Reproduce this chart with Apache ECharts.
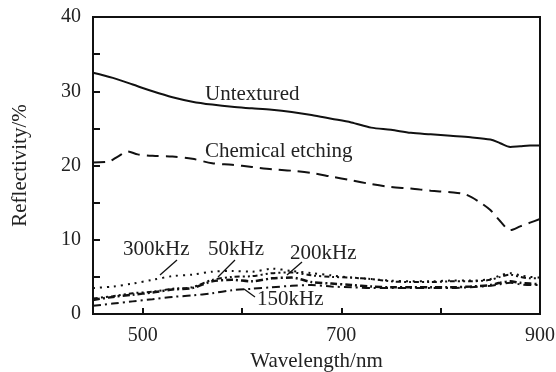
<!DOCTYPE html>
<html>
<head>
<meta charset="utf-8">
<script src="https://cdn.jsdelivr.net/npm/echarts@6/dist/echarts.min.js"></script>
<style>html,body{margin:0;padding:0;background:#fff}#c{width:556px;height:372px}</style>
</head>
<body>
<div id="c"></div>
<script>
// ---- data ----
var wavelength = [450,470,490,510,530,550,570,590,610,630,650,670,690,710,730,750,770,790,810,830,850,860,870,880,890,900];
var untextured = [32.5,31.8,30.9,30.0,29.2,28.6,28.2,27.9,27.7,27.5,27.2,26.8,26.3,25.8,25.1,24.8,24.4,24.2,24.0,23.8,23.5,23.0,22.5,22.6,22.7,22.7];
var etchWavelength = [450,465,475,485,495,510,530,550,570,590,610,630,650,670,690,710,730,750,770,790,810,825,840,850,860,870,880,890,900];
var chemical = [20.4,20.5,21.2,21.9,21.5,21.3,21.2,20.9,20.3,20.1,19.8,19.5,19.3,19.0,18.5,18.0,17.5,17.1,16.9,16.6,16.4,16.1,15.0,14.0,12.5,11.3,11.8,12.3,12.8];
var khz300 = [3.5,3.7,4.1,4.6,5.1,5.3,5.7,5.8,5.7,6.1,5.8,5.5,5.2,4.9,4.7,4.5,4.4,4.4,4.5,4.5,4.7,5.2,5.5,5.2,5.0,4.9];
var khz200 = [2.1,2.4,2.8,3.0,3.4,3.6,4.6,5.0,5.1,5.5,5.6,5.2,5.0,4.9,4.7,4.4,4.3,4.3,4.4,4.4,4.6,5.0,5.3,5.0,4.8,4.8];
var khz50  = [1.9,2.3,2.6,2.9,3.3,3.5,4.4,4.6,4.4,4.8,4.9,4.3,4.1,3.9,3.7,3.6,3.6,3.6,3.6,3.7,3.9,4.2,4.4,4.2,4.1,4.0];
var khz150 = [1.1,1.4,1.7,2.0,2.3,2.5,2.8,3.2,3.4,3.6,3.8,3.9,3.7,3.6,3.5,3.5,3.5,3.5,3.5,3.6,3.8,4.0,4.2,4.0,3.9,3.9];
var xTickValues = [500,600,700,800,900];
var xLabelValues = [500,700,900];
var yLabelValues = [0,10,20,30,40];
var labels = ['Untextured','Chemical etching','300kHz','50kHz','200kHz','150kHz'];

function pairs(xs, ys){ return xs.map(function(x,i){ return [x, ys[i]]; }); }

var FONT = 'Liberation Serif';
var chart = echarts.init(document.getElementById('c'));
function line(name, xs, ys, type, width){
  return {name:name, type:'line', data:pairs(xs,ys), showSymbol:false, symbol:'none', smooth:0.3,
    lineStyle:{color:'#111', width:width, type:type}, animation:false};
}
chart.setOption({
  animation:false,
  backgroundColor:'#fff',
  grid:{left:93, top:17, right:16, bottom:58, outerBoundsMode:'none', containLabel:false,
    show:true, borderColor:'#111', borderWidth:2, backgroundColor:'transparent'},
  xAxis:{type:'value', min:450, max:900, interval:50,
    name:'Wavelength/nm', nameLocation:'middle', nameGap:34,
    nameTextStyle:{fontFamily:FONT, fontSize:21, color:'#222'},
    axisLine:{lineStyle:{color:'#111', width:2}},
    axisTick:{inside:true, length:6, lineStyle:{color:'#111', width:2}, customValues:xTickValues},
    axisLabel:{fontFamily:FONT, fontSize:20, color:'#222', margin:12, customValues:xLabelValues},
    splitLine:{show:false}},
  yAxis:{type:'value', min:0, max:40, interval:5,
    name:'Reflectivity/%', nameLocation:'middle', nameGap:62,
    nameTextStyle:{fontFamily:FONT, fontSize:21, color:'#222'},
    axisLine:{show:true, lineStyle:{color:'#111', width:2}},
    axisTick:{show:true, inside:true, length:7, lineStyle:{color:'#111', width:2}},
    axisLabel:{fontFamily:FONT, fontSize:20, color:'#222', margin:12, customValues:yLabelValues},
    splitLine:{show:false}},
  series:[
    line(labels[0], wavelength, untextured, 'solid', 2),
    line(labels[1], etchWavelength, chemical, [12,7], 2),
    line(labels[2], wavelength, khz300, [2,5], 2),
    line(labels[4], wavelength, khz200, [5,3,2,3,2,3], 2),
    line(labels[3], wavelength, khz50, [7,3,2,3], 2.5),
    line(labels[5], wavelength, khz150, [8,4,2,4], 2)
  ],
  graphic:[
    {type:'text', left:205, top:84, style:{text:labels[0], font:'21px "Liberation Serif"', fill:'#222'}},
    {type:'text', left:205, top:141, style:{text:labels[1], font:'21px "Liberation Serif"', fill:'#222'}},
    {type:'text', left:123, top:239, style:{text:labels[2], font:'21px "Liberation Serif"', fill:'#222'}},
    {type:'text', left:208, top:239, style:{text:labels[3], font:'21px "Liberation Serif"', fill:'#222'}},
    {type:'text', left:290, top:243, style:{text:labels[4], font:'21px "Liberation Serif"', fill:'#222'}},
    {type:'text', left:257, top:289, style:{text:labels[5], font:'21px "Liberation Serif"', fill:'#222'}},
    {type:'line', shape:{x1:177,y1:260,x2:160,y2:275}, style:{stroke:'#111', lineWidth:1.3}},
    {type:'line', shape:{x1:235,y1:260,x2:218,y2:277}, style:{stroke:'#111', lineWidth:1.3}},
    {type:'line', shape:{x1:302,y1:262,x2:287,y2:275}, style:{stroke:'#111', lineWidth:1.3}},
    {type:'line', shape:{x1:255,y1:297,x2:244,y2:289}, style:{stroke:'#111', lineWidth:1.3}}
  ]
});
</script>
</body>
</html>
